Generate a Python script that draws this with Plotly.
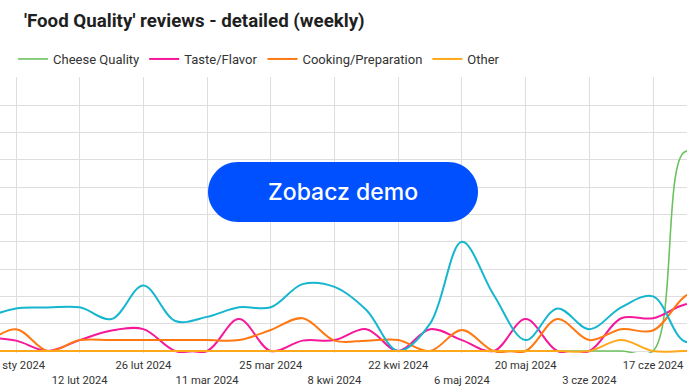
import plotly.graph_objects as go
import pandas as pd

W, H = 687, 387

weeks = pd.date_range("2024-01-22", periods=24, freq="7D")

cheese = [0, 0, 0, 0, 0, 0, 0, 0, 0, 0, 0, 0, 0, 0, 0, 0, 0, 0, 0, 0, 0, 0, 7.3, 6.6]
taste = [0.5, 0.38, 0, 0.4, 0.75, 0.8, 0, 0, 1.17, 0, 0.38, 0.4, 0.8, 0, 0.8, 0.4, 0, 1.17, 0, 0, 1.2, 1.2, 1.7, 1.8]
cooking = [0.2, 0.8, 0, 0.4, 0.4, 0.4, 0.4, 0.4, 0.4, 0.77, 1.2, 0.38, 0.38, 0.4, 0, 0.77, 0, 0, 1.17, 0.4, 0.8, 0.75, 2.0, 2.6]
other = [0, 0, 0, 0, 0, 0, 0, 0, 0, 0, 0, 0, 0, 0, 0, 0, 0, 0, 0, 0, 0.4, 0, 0, 0]
service = [1.2, 1.56, 1.59, 1.6, 1.17, 2.4, 1.1, 1.25, 1.6, 1.6, 2.45, 2.35, 1.5, 0, 1.0, 4.0, 2.05, 0.4, 1.56, 0.8, 1.6, 2.0, 0.35, 0.6]

tick_dates = pd.date_range("2024-01-29", periods=11, freq="14D")
tick_labels = ["29 sty 2024", "12 lut 2024", "26 lut 2024", "11 mar 2024", "25 mar 2024",
               "8 kwi 2024", "22 kwi 2024", "6 maj 2024", "20 maj 2024", "3 cze 2024", "17 cze 2024"]

series = [
    ("Cheese Quality", cheese, "#6CC160", 1.6, True),
    ("Taste/Flavor", taste, "#F5189B", 2, True),
    ("Cooking/Preparation", cooking, "#FF7812", 2, True),
    ("Service", service, "#17B6CF", 2, False),
    ("Other", other, "#FFA81A", 2, True),
]

fig = go.Figure()
for i, (name, vals, color, width, show) in enumerate(series):
    fig.add_trace(go.Scatter(
        x=weeks, y=vals, mode="lines", name=name, showlegend=show,
        line=dict(color=color, width=width, shape="spline", smoothing=1.0),
    ))

T, B = 77, 34
plot_h = H - T - B
ppu = 27.3
y0 = -(H - B - 351) / ppu
y1 = y0 + plot_h / ppu

ticktext = [t if i % 2 == 0 else "<br>" + t for i, t in enumerate(tick_labels)]

fig.update_layout(
    width=W, height=H,
    margin=dict(l=0, r=0, t=T, b=B),
    paper_bgcolor="white", plot_bgcolor="white",
    font=dict(family="Roboto", color="#333333", size=12),
    title=dict(text="<b>'Food Quality' reviews - detailed (weekly)</b>",
               x=24 / W, xanchor="left", xref="container",
               y=1 - 20 / H, yanchor="middle", yref="container",
               font=dict(family="Roboto", size=18.7, color="#1f1f1f")),
    legend=dict(orientation="h", x=0.019, xanchor="left", xref="container",
                y=1 - 59 / H, yanchor="middle", yref="container",
                font=dict(family="Roboto", size=13, color="#333333"),
                bgcolor="rgba(0,0,0,0)", traceorder="normal"),
    xaxis=dict(
        range=["2024-01-25 11:36", "2024-06-24 11:20"],
        tickvals=tick_dates, ticktext=ticktext, tickangle=0,
        ticklabeloverflow="allow", ticklabelstandoff=4,
        showgrid=True, gridcolor="#dedede", gridwidth=1,
        zeroline=False, showline=False, ticks="",
        tickfont=dict(family="Roboto", size=11.2, color="#333333"),
        automargin=False,
    ),
    yaxis=dict(
        range=[y0, y1], dtick=1, tick0=0,
        showgrid=True, gridcolor="#dedede", gridwidth=1,
        zeroline=False, showticklabels=False, ticks="",
        automargin=False,
    ),
    hovermode=False,
)

# "Zobacz demo" pill button (pixel geometry converted to paper coords)
def px(xp):
    return xp / W

def py(yp):
    return (H - B - yp) / plot_h

bx0, bx1, by0, by1 = 208, 478, 162, 222
r = (by1 - by0) / 2
k = 0.5523 * r
path = (
    f"M {px(bx0 + r)},{py(by0)} L {px(bx1 - r)},{py(by0)} "
    f"C {px(bx1 - r + k)},{py(by0)} {px(bx1)},{py(by0 + r - k)} {px(bx1)},{py(by0 + r)} "
    f"C {px(bx1)},{py(by0 + r + k)} {px(bx1 - r + k)},{py(by1)} {px(bx1 - r)},{py(by1)} "
    f"L {px(bx0 + r)},{py(by1)} "
    f"C {px(bx0 + r - k)},{py(by1)} {px(bx0)},{py(by1 - r + k)} {px(bx0)},{py(by1 - r)} "
    f"C {px(bx0)},{py(by0 + r - k)} {px(bx0 + r - k)},{py(by0)} {px(bx0 + r)},{py(by0)} Z"
)
fig.add_shape(type="path", path=path, xref="paper", yref="paper",
              fillcolor="#0050FF", line=dict(width=0), layer="above")
fig.add_annotation(text="Zobacz demo", x=px((bx0 + bx1) / 2), y=py((by0 + by1) / 2),
                   xref="paper", yref="paper", showarrow=False,
                   font=dict(family="Inter", size=23, color="white", weight=500),
                   xanchor="center", yanchor="middle")

fig.write_html("out.html")
